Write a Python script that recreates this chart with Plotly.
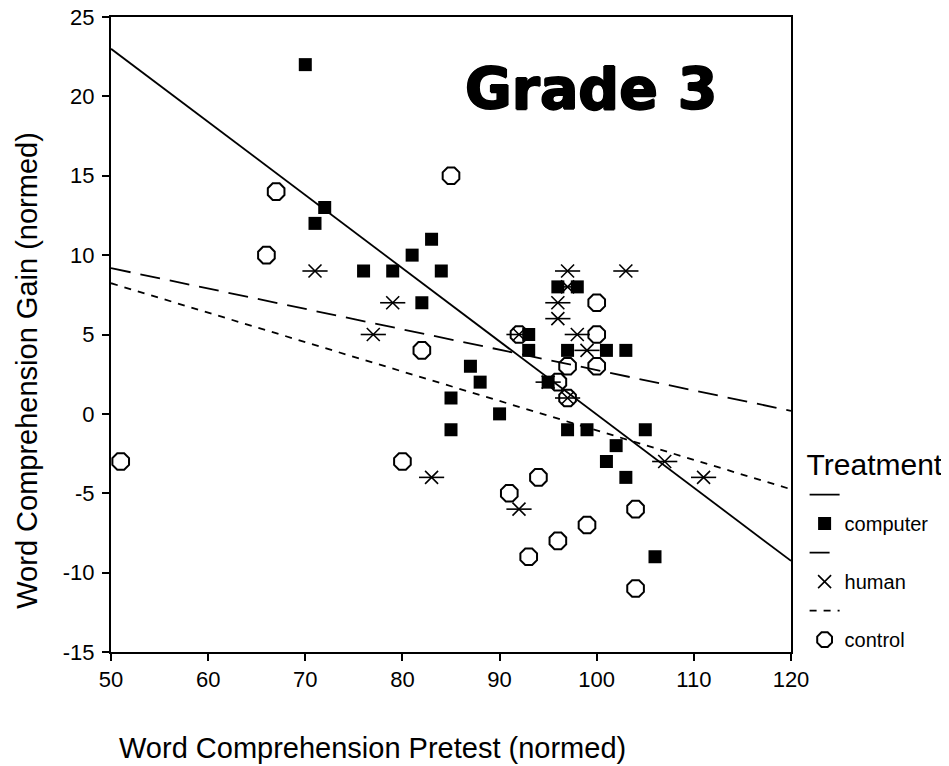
import plotly.graph_objects as go

# ---- data ----
computer_x = [70, 72, 71, 76, 79, 81, 83, 84, 82, 87, 88, 85, 85, 90, 93, 93, 95, 96, 98, 97, 101, 103, 97, 99, 105, 102, 101, 103, 106]
computer_y = [22, 13, 12, 9, 9, 10, 11, 9, 7, 3, 2, 1, -1, 0, 5, 4, 2, 8, 8, 4, 4, 4, -1, -1, -1, -2, -3, -4, -9]

human_x = [71, 79, 77, 83, 92, 92, 95, 96, 96, 97, 97, 103, 98, 99, 97, 107, 111]
human_y = [9, 7, 5, -4, 5, -6, 2, 7, 6, 9, 8, 9, 5, 4, 1, -3, -4]

control_x = [51, 66, 67, 85, 82, 80, 92, 91, 94, 93, 96, 99, 104, 104, 100, 100, 100, 97, 96, 97]
control_y = [-3, 10, 14, 15, 4, -3, 5, -5, -4, -9, -8, -7, -6, -11, 7, 5, 3, 3, 2, 1]

# fitted regression lines (endpoints at the axis limits)
fit_x = [50, 120]
computer_fit = [23.0, -9.26]
human_fit = [9.18, 0.19]
control_fit = [8.23, -4.75]

x_ticks = [50, 60, 70, 80, 90, 100, 110, 120]
y_ticks = [-15, -10, -5, 0, 5, 10, 15, 20, 25]
y_tick_text = ["-15", "-10", "-5", "0", "5", "10", "15", "20", "25"]

FONT = "Liberation Sans, Arial, sans-serif"

fig = go.Figure()

# computer
fig.add_trace(go.Scatter(x=fit_x, y=computer_fit, mode="lines", name=" ",
                         line=dict(color="black", width=1.8), hoverinfo="skip"))
fig.add_trace(go.Scatter(x=computer_x, y=computer_y, mode="markers", name="computer",
                         marker=dict(symbol="square", size=13, color="black",
                                     line=dict(width=0))))
# human
fig.add_trace(go.Scatter(x=fit_x, y=human_fit, mode="lines", name=" ",
                         line=dict(color="black", width=1.8, dash="20px,10px"), hoverinfo="skip"))
fig.add_trace(go.Scatter(x=human_x, y=human_y, mode="markers", name="human",
                         marker=dict(symbol="x-thin-open", size=13,
                                     line=dict(width=1.6, color="black"), color="black")))
fig.add_trace(go.Scatter(x=human_x, y=human_y, mode="markers", showlegend=False,
                         marker=dict(symbol="line-ew-open", size=18,
                                     line=dict(width=1.6, color="black"), color="black")))
# control
fig.add_trace(go.Scatter(x=fit_x, y=control_fit, mode="lines", name=" ",
                         line=dict(color="black", width=1.8, dash="7px,7px"), hoverinfo="skip"))
fig.add_trace(go.Scatter(x=control_x, y=control_y, mode="markers", name="control",
                         marker=dict(symbol="octagon-open", size=18, color="black",
                                     line=dict(width=2, color="black"))))

axis_common = dict(showgrid=False, zeroline=False, showline=True, linecolor="black",
                   linewidth=2, mirror=True, ticks="outside", ticklen=7, tickwidth=1.5,
                   tickcolor="black", ticklabeloverflow="allow",
                   tickfont=dict(family=FONT, size=22, color="black"))

fig.update_xaxes(range=[50, 120], tickvals=x_ticks, **axis_common)
fig.update_yaxes(range=[-15, 25], tickvals=y_ticks, ticktext=y_tick_text,
                 ticklabelstandoff=3, **axis_common)

fig.add_annotation(text="Word Comprehension Pretest (normed)", xref="paper", yref="paper",
                   x=0.385, y=-0.151, xanchor="center", yanchor="middle", showarrow=False,
                   font=dict(family=FONT, size=29, color="black"))
fig.add_annotation(text="Word Comprehension Gain (normed)", xref="paper", yref="paper",
                   x=-0.124, y=0.444, xanchor="center", yanchor="middle", showarrow=False,
                   textangle=-90, font=dict(family=FONT, size=29, color="black"))
fig.add_annotation(text="Grade 3", xref="paper", yref="paper",
                   x=0.706, y=0.887, xanchor="center", yanchor="middle", showarrow=False,
                   font=dict(family="DejaVu Sans, sans-serif", size=57,
                             color="black", weight="bold",
                             shadow="1px 0px 0px black, -1px 0px 0px black, 0px 1px 0px black, 0px -1px 0px black"))

fig.update_layout(
    width=941, height=758,
    margin=dict(l=103, r=158, t=9, b=114, autoexpand=False),
    paper_bgcolor="white", plot_bgcolor="white",
    showlegend=True,
    legend=dict(x=1.02, xanchor="left", y=0.34, yanchor="top",
                title=dict(text="Treatment", font=dict(family=FONT, size=30, color="black")),
                font=dict(family=FONT, size=20, color="black"),
                tracegroupgap=0, itemwidth=30, bgcolor="rgba(0,0,0,0)"),
)

fig.write_html("out.html")
